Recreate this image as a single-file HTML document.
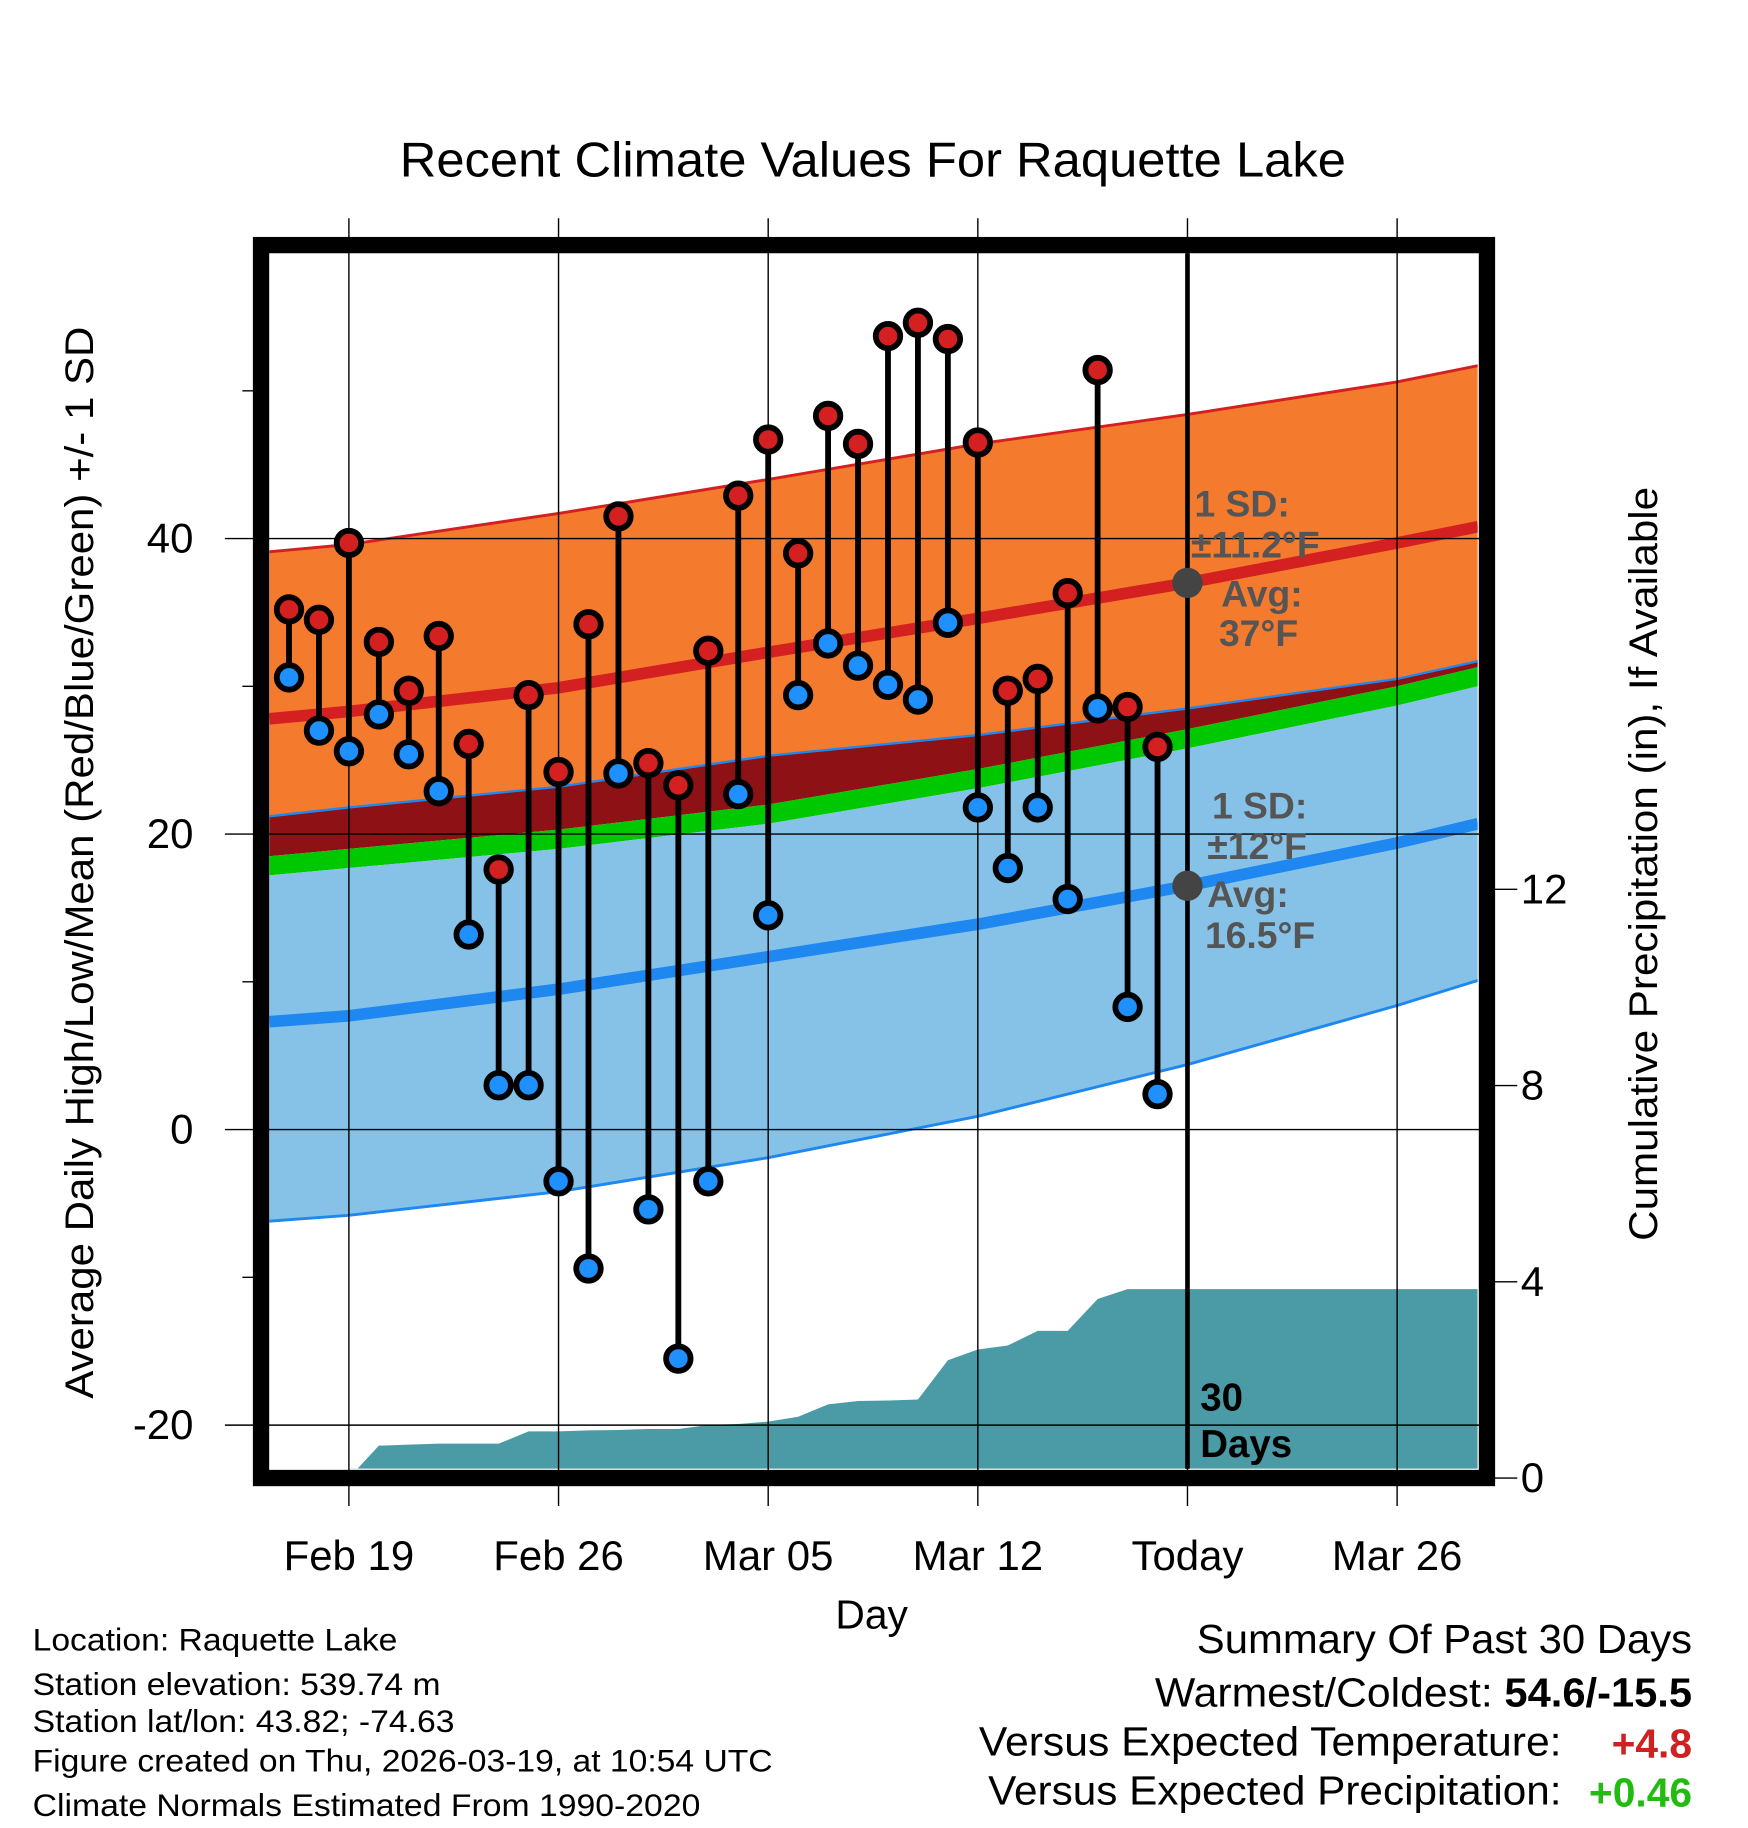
<!DOCTYPE html>
<html><head><meta charset="utf-8"><style>html,body{margin:0;padding:0;background:#fff}svg{display:block}text{font-family:"Liberation Sans",sans-serif}</style></head>
<body>
<svg id="chart" width="1748" height="1828" viewBox="0 0 1500 1568" xmlns="http://www.w3.org/2000/svg">
<g id="bands"></g>
<g id="precip"></g>
<g id="grid"></g>
<g id="marks"></g>
<g id="frame"></g>
<text x="343" y="151" font-size="42" textLength="812" lengthAdjust="spacingAndGlyphs">Recent Climate Values For Raquette Lake</text>
<text transform="translate(80,740) rotate(-90)" font-size="34" text-anchor="middle" textLength="920" lengthAdjust="spacingAndGlyphs">Average Daily High/Low/Mean (Red/Blue/Green) +/- 1 SD</text>
<text transform="translate(1422,741) rotate(-90)" font-size="34" text-anchor="middle" textLength="647" lengthAdjust="spacingAndGlyphs">Cumulative Precipitation (in), If Available</text>
<text x="748" y="1397" font-size="35" text-anchor="middle">Day</text>
<g font-size="27">
<text x="28" y="1416" textLength="313" lengthAdjust="spacingAndGlyphs">Location: Raquette Lake</text>
<text x="28" y="1454" textLength="350" lengthAdjust="spacingAndGlyphs">Station elevation: 539.74 m</text>
<text x="28" y="1486" textLength="362" lengthAdjust="spacingAndGlyphs">Station lat/lon: 43.82; -74.63</text>
<text x="28" y="1520" textLength="635" lengthAdjust="spacingAndGlyphs">Figure created on Thu, 2026-03-19, at 10:54 UTC</text>
<text x="28" y="1558" textLength="573" lengthAdjust="spacingAndGlyphs">Climate Normals Estimated From 1990-2020</text>
</g>
<g font-size="35">
<text x="1027" y="1418" textLength="425" lengthAdjust="spacingAndGlyphs">Summary Of Past 30 Days</text>
<text x="991" y="1464" textLength="290" lengthAdjust="spacingAndGlyphs">Warmest/Coldest:</text>
<text x="1291" y="1464" font-weight="bold" textLength="161" lengthAdjust="spacingAndGlyphs">54.6/-15.5</text>
<text x="840" y="1506" textLength="500" lengthAdjust="spacingAndGlyphs">Versus Expected Temperature:</text>
<text x="1452" y="1508" fill="#cc2222" font-weight="bold" text-anchor="end">+4.8</text>
<text x="848" y="1548" textLength="492" lengthAdjust="spacingAndGlyphs">Versus Expected Precipitation:</text>
<text x="1452" y="1550" fill="#22bb11" font-weight="bold" text-anchor="end">+0.46</text>
</g>
</svg>
<script>
// daily observations, index 0 = Feb 17
const highs=[35.2,34.5,39.7,33.0,29.7,33.4,26.1,17.6,29.4,24.2,34.2,41.5,24.8,23.3,32.4,42.9,46.7,39.0,48.3,46.4,53.7,54.6,53.5,46.5,29.7,30.5,36.3,51.4,28.6,25.9];
const lows=[30.6,27.0,25.6,28.1,25.4,22.9,13.2,3.0,3.0,-3.5,-9.4,24.1,-5.4,-15.5,-3.5,22.7,14.5,29.4,32.9,31.4,30.1,29.1,34.3,21.8,17.7,21.8,15.6,28.5,8.3,2.4];
const precipDays=[2,3,4,5,6,7,8,9,10,11,12,13,14,15,16,17,18,19,20,21,22,23,24,25,26,27,28,29];
const precipVals=[0,0.66,0.68,0.7,0.7,0.7,0.95,0.95,0.97,0.98,1.0,1.0,1.08,1.1,1.15,1.25,1.5,1.57,1.58,1.6,2.4,2.62,2.7,3.0,3.0,3.65,3.85,3.85];
// normals sampled at day offsets
const normDays=[-0.66,2,9,16,23,30,37,39.7];
const highUpper=[39.1,39.6,41.7,44.0,46.4,48.4,50.6,51.7];
const highMean=[27.8,28.3,29.9,32.3,34.6,37.0,39.7,40.8];
const highLower=[21.2,21.8,23.2,25.3,26.7,28.5,30.5,31.7];
const meanTop=[18.5,19.0,20.3,22.0,24.4,27.1,30.0,31.3];
const meanBottom=[17.2,17.7,19.0,20.7,23.1,25.8,28.7,30.0];
const lowMean=[7.3,7.7,9.5,11.7,13.9,16.5,19.4,20.7];
const lowLower=[-6.2,-5.8,-4.2,-1.9,0.9,4.4,8.4,10.1];
const xTickDays=[2,9,16,23,30,37];
const xTickLabels=["Feb 19","Feb 26","Mar 05","Mar 12","Today","Mar 26"];
const yTicks=[40,20,0,-20];
const yMinor=[50,30,10,-10];
const pTicks=[0,4,8,12];

const X=d=>248+25.7*d, Y=t=>969-12.68*t, P=p=>1268-42.1*p;
const L=231,R=1268,T=217,B=1260;
const NS="http://www.w3.org/2000/svg";
function mk(tag,parent,attrs){const e=document.createElementNS(NS,tag);for(const k in attrs)e.setAttribute(k,attrs[k]);parent.appendChild(e);return e;}
const svg=document.getElementById('chart');
const defs=mk('defs',svg,{});const cp=mk('clipPath',defs,{id:'clip'});mk('rect',cp,{x:L,y:T,width:R-L,height:B-T});
const bands=document.getElementById('bands');bands.setAttribute('clip-path','url(#clip)');
function pts(arr){return normDays.map((d,i)=>X(d)+','+Y(arr[i]));}
function band(up,lo,fill,name){const p=mk('polygon',bands,{points:pts(up).concat(pts(lo).reverse()).join(' '),fill:fill});

}
band(highUpper,highLower,'#f47a2e','high-sd-band');
band(highLower,meanTop,'#8e1116','overlap-band');
band(meanTop,meanBottom,'#00c800','mean-band');
band(meanBottom,lowLower,'#86c2e8','low-sd-band');
function line(arr,col,w,name){const l=mk('polyline',bands,{points:pts(arr).join(' '),fill:'none',stroke:col,'stroke-width':w});

}
line(highUpper,'#d42020',2.5,'high-upper-line');line(highLower,'#1e88f0',2,'high-lower-line');
line(highMean,'#d42020',10,'high-mean-line');line(lowMean,'#1e88f0',10,'low-mean-line');line(lowLower,'#1e88f0',2.5,'low-lower-line');

const pg=document.getElementById('precip');pg.setAttribute('clip-path','url(#clip)');
let pp=precipDays.map((d,i)=>X(d)+','+P(precipVals[i]));
pp.push(R+','+P(precipVals[precipVals.length-1]));pp.push(R+','+B);pp.push(X(precipDays[0])+','+B);
const area=mk('polygon',pg,{points:pp.join(' '),fill:'#4a9ba5'});



const grid=document.getElementById('grid');
xTickDays.forEach((d,i)=>{mk('line',grid,{x1:X(d),x2:X(d),y1:187,y2:1292,stroke:'#000','stroke-width':1.2});
const t=mk('text',grid,{x:X(d),y:1347,'font-size':36,'text-anchor':'middle'});t.textContent=xTickLabels[i];

});
yTicks.forEach(v=>{mk('line',grid,{x1:193,x2:1276,y1:Y(v),y2:Y(v),stroke:'#000','stroke-width':1.2});
const t=mk('text',grid,{x:166,y:Y(v)+12,'font-size':36,'text-anchor':'end'});t.textContent=v;

});
yMinor.forEach(v=>mk('line',grid,{x1:208,x2:224,y1:Y(v),y2:Y(v),stroke:'#000','stroke-width':1.2}));
pTicks.forEach(v=>{mk('line',grid,{x1:1276,x2:1302,y1:P(v),y2:P(v),stroke:'#000','stroke-width':1.2});
const t=mk('text',grid,{x:1305,y:P(v)+12,'font-size':36});t.textContent=v;

});
mk('line',grid,{x1:X(30),x2:X(30),y1:T,y2:B,stroke:'#000','stroke-width':4});

const g=document.getElementById('grid');
[['1 SD:',1025,443],['±11.2°F',1022,478],['Avg:',1048,520],['37°F',1046,554],['1 SD:',1040,702],['±12°F',1036,737],['Avg:',1036,778],['16.5°F',1034,813]].forEach(a=>{
const t=mk('text',g,{x:a[1],y:a[2],'font-size':32,'font-weight':'bold',fill:'#555'});t.textContent=a[0];

});
mk('circle',g,{cx:X(30),cy:Y(highMean[5]),r:13,fill:'#444'});
mk('circle',g,{cx:X(30),cy:Y(lowMean[5]),r:13,fill:'#444'});
const d30=mk('text',g,{x:1030,y:1210,'font-size':33,'font-weight':'bold'});d30.textContent='30';
const d30b=mk('text',g,{x:1030,y:1250,'font-size':33,'font-weight':'bold'});d30b.textContent='Days';

const marks=document.getElementById('marks');
highs.forEach((h,i)=>{const x=X(i);
const s=mk('line',marks,{x1:x,x2:x,y1:Y(h),y2:Y(lows[i]),stroke:'#000','stroke-width':5});


const c1=mk('circle',marks,{cx:x,cy:Y(h),r:10.5,fill:'#d42020',stroke:'#000','stroke-width':5});


const c2=mk('circle',marks,{cx:x,cy:Y(lows[i]),r:10.5,fill:'#1e90ff',stroke:'#000','stroke-width':5});

});

const fr=document.getElementById('frame');
mk('rect',fr,{x:224,y:210,width:1052,height:1058,fill:'none',stroke:'#000','stroke-width':14});
</script>
</body></html>
